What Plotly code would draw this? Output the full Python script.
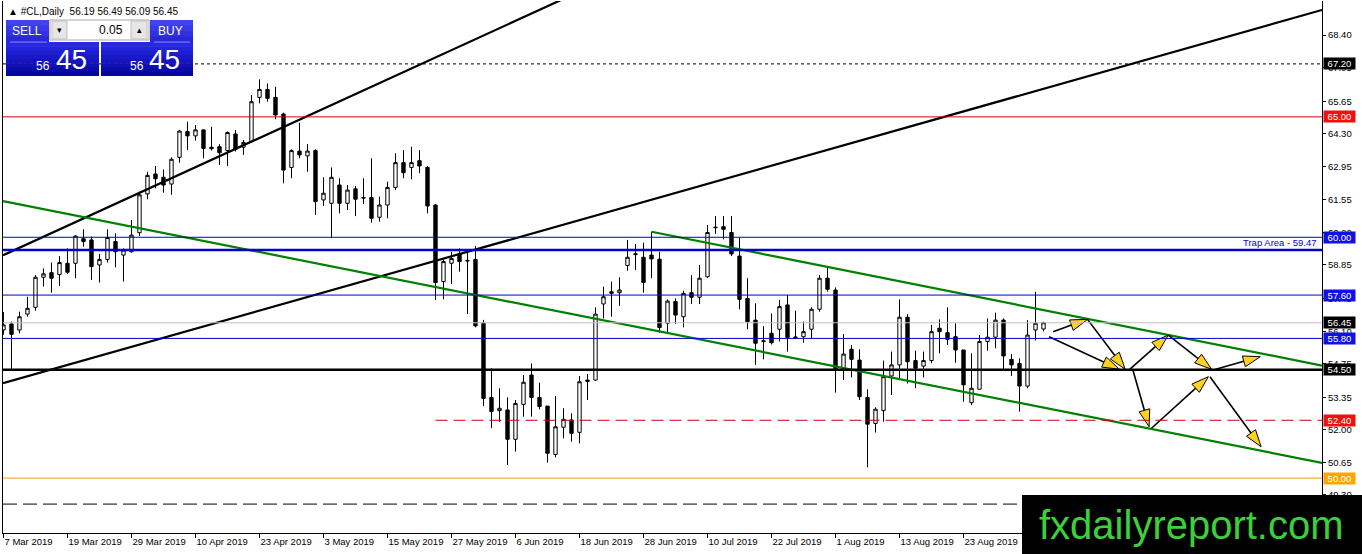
"""#CL daily chart (MT4 style): candles, channel, trend lines, levels and projection arrows."""

from __future__ import annotations

import plotly.graph_objects as go

SYMBOL = "#CL,Daily"

# daily candles, bar 0 = 7 Mar 2019, last bar = 6 Sep 2019
OPEN = [
    56.15, 56.40, 56.15, 56.81, 57.09, 58.34, 58.53, 58.45, 58.92, 58.92,
    59.94, 59.89, 58.85, 59.08, 59.82, 59.26, 59.40, 60.19, 61.80, 62.63,
    62.49, 62.21, 63.32, 64.39, 64.21, 64.46, 63.74, 63.76, 63.60, 64.29,
    63.74, 63.97, 65.81, 66.14, 65.81, 65.12, 62.90, 63.58, 63.38, 63.60,
    61.55, 61.41, 62.17, 61.41, 62.01, 61.65, 61.65, 60.83, 61.34, 62.07,
    63.10, 62.90, 63.18, 62.90, 61.34, 58.16, 58.92, 59.31, 59.04, 59.08,
    56.43, 53.35, 52.80, 52.83, 51.61, 53.06, 54.28, 53.35, 52.99, 50.98,
    52.11, 52.41, 51.90, 54.01, 54.07, 57.23, 57.67, 57.70, 58.83, 59.28,
    59.17, 59.26, 59.09, 56.43, 57.33, 56.70, 57.70, 57.51, 58.36, 60.42,
    60.44, 60.20, 59.22, 57.46, 56.56, 55.70, 56.01, 56.18, 57.19, 55.86,
    55.87, 56.18, 57.01, 58.30, 57.81, 54.49, 55.35, 54.90, 53.35, 52.27,
    52.80, 54.24, 54.70, 56.68, 54.88, 54.65, 54.88, 56.22, 56.04, 55.87,
    55.32, 53.13, 53.69, 55.67, 55.85, 56.56, 54.93, 54.76, 53.82, 56.15,
    56.19,
]
HIGH = [
    56.90, 56.50, 56.91, 57.53, 58.43, 58.71, 58.95, 59.22, 59.54, 60.09,
    60.33, 60.03, 59.31, 60.33, 60.16, 59.54, 60.72, 61.89, 62.72, 62.96,
    62.82, 63.32, 64.46, 64.80, 64.66, 64.48, 64.59, 63.87, 64.39, 64.46,
    64.04, 65.91, 66.56, 66.39, 66.25, 65.18, 63.65, 64.76, 63.87, 63.65,
    62.49, 62.90, 62.45, 62.17, 62.13, 62.45, 63.28, 61.69, 62.31, 63.49,
    63.62, 63.76, 63.62, 62.96, 61.38, 59.08, 59.40, 59.54, 59.40, 59.64,
    56.57, 54.56, 53.73, 53.35, 53.24, 54.28, 54.76, 53.96, 52.99, 53.41,
    52.90, 52.69, 54.24, 54.32, 57.09, 57.95, 58.16, 58.34, 59.89, 59.72,
    59.78, 60.23, 59.40, 57.42, 57.46, 57.78, 58.43, 58.85, 60.51, 60.88,
    60.88, 60.88, 59.99, 58.30, 57.26, 56.31, 56.84, 57.40, 57.60, 56.95,
    56.50, 57.09, 58.43, 58.78, 57.92, 55.98, 55.53, 55.35, 53.69, 52.94,
    54.88, 55.25, 57.42, 56.81, 55.29, 55.25, 56.36, 56.59, 57.09, 56.43,
    55.32, 55.18, 55.94, 56.63, 56.87, 56.63, 55.15, 54.97, 56.56, 57.74,
    56.49,
]
LOW = [
    55.95, 54.49, 56.01, 56.70, 56.95, 57.95, 57.70, 57.98, 58.48, 58.30,
    59.61, 58.23, 58.12, 58.95, 58.75, 58.16, 59.36, 60.05, 61.58, 62.03,
    61.85, 61.76, 63.10, 63.62, 64.01, 63.28, 63.60, 63.00, 62.96, 63.56,
    63.42, 63.93, 65.56, 65.63, 64.90, 62.24, 62.45, 63.28, 62.72, 60.93,
    61.30, 59.96, 60.99, 61.13, 60.88, 61.38, 60.61, 60.65, 60.79, 61.96,
    62.45, 62.41, 62.66, 60.99, 57.40, 57.42, 58.06, 58.57, 56.81, 56.26,
    52.99, 52.07, 52.34, 50.54, 51.10, 52.55, 52.55, 52.85, 50.64, 50.86,
    51.65, 51.51, 51.44, 53.24, 54.04, 56.63, 56.70, 57.15, 58.61, 58.64,
    57.70, 58.30, 56.04, 56.04, 56.40, 56.26, 57.23, 57.23, 58.30, 60.14,
    59.91, 59.22, 57.01, 56.18, 54.70, 54.93, 55.55, 55.67, 55.25, 55.80,
    55.62, 55.80, 56.91, 57.74, 53.55, 54.07, 54.18, 53.24, 50.45, 51.89,
    52.34, 53.45, 54.14, 53.93, 53.73, 54.18, 54.77, 55.18, 55.53, 54.79,
    53.17, 53.03, 53.69, 55.29, 55.39, 54.49, 54.24, 52.76, 53.73, 55.71,
    56.09,
]
CLOSE = [
    56.36, 55.97, 56.70, 57.05, 58.34, 58.48, 58.30, 58.95, 58.55, 60.05,
    59.82, 58.78, 59.08, 59.99, 59.40, 59.47, 60.09, 61.76, 62.57, 62.43,
    62.17, 63.24, 64.41, 64.21, 64.46, 63.69, 63.68, 63.51, 64.35, 63.65,
    63.94, 65.63, 66.14, 65.77, 65.08, 62.79, 63.60, 63.42, 63.58, 61.48,
    61.83, 62.49, 61.41, 61.96, 61.58, 61.63, 60.79, 61.34, 62.07, 63.10,
    62.68, 63.10, 62.96, 61.30, 58.12, 58.99, 59.12, 58.99, 59.02, 56.32,
    53.31, 52.76, 52.90, 51.61, 53.10, 53.98, 53.35, 52.97, 51.03, 52.13,
    52.44, 51.86, 54.00, 54.07, 56.81, 57.53, 57.74, 57.81, 59.17, 59.31,
    58.12, 59.10, 56.25, 57.35, 56.77, 57.67, 57.51, 58.30, 60.20, 60.40,
    60.33, 59.31, 57.42, 56.49, 55.60, 55.68, 55.62, 57.12, 55.84, 55.84,
    56.08, 57.01, 58.30, 57.84, 54.49, 55.15, 54.93, 53.38, 52.24, 52.86,
    54.21, 54.70, 56.68, 54.83, 54.56, 54.88, 56.08, 56.08, 55.76, 55.32,
    53.87, 53.73, 55.67, 55.85, 56.56, 55.07, 54.70, 53.82, 55.94, 56.43,
    56.45,
]

TICK_BARS = [0, 8, 16, 24, 32, 40, 48, 56, 64, 72, 80, 88, 96, 104, 112, 120]
TICK_DATES = [
    "7 Mar 2019", "19 Mar 2019", "29 Mar 2019", "10 Apr 2019", "23 Apr 2019",
    "3 May 2019", "15 May 2019", "27 May 2019", "6 Jun 2019", "18 Jun 2019",
    "28 Jun 2019", "10 Jul 2019", "22 Jul 2019", "1 Aug 2019", "13 Aug 2019",
    "23 Aug 2019",
]
PRICE_TICKS = [68.40, 67.05, 65.65, 64.30, 62.95, 61.55, 60.20, 58.85, 57.45,
               56.10, 54.75, 53.35, 52.00, 50.65, 49.30]

# horizontal levels and the bar each one is drawn from (None = whole chart)
LEVELS = [67.20, 65.00, 60.00, 59.47, 57.60, 56.45, 55.80, 54.50, 52.40, 50.00, 48.92]
LEVEL_FROM = [None, None, None, None, None, None, None, None, 54, None, None]
TRAP_AREA = 59.47

# trend lines: (bar, price) end points
STEEP_X = [-0.06, 70.0]
STEEP_Y = [59.25, 69.90]
LONG_X = [-0.06, 164.81]
LONG_Y = [53.94, 69.44]
CHANNEL_LOW_X = [-0.06, 164.81]
CHANNEL_LOW_Y = [61.50, 50.63]
CHANNEL_HIGH_X = [81.0, 164.81]
CHANNEL_HIGH_Y = [60.23, 54.67]

# projection arrows
ARROW_X0 = [131.2, 130.7, 135.5, 140.7, 145.6, 151.2, 141.2, 143.5, 150.8]
ARROW_Y0 = [56.08, 55.87, 56.59, 54.49, 55.94, 54.49, 54.46, 52.07, 54.21]
ARROW_X1 = [135.5, 139.5, 140.2, 145.6, 151.0, 157.1, 143.2, 150.6, 157.2]
ARROW_Y1 = [56.59, 54.52, 54.52, 55.94, 54.52, 55.04, 52.13, 54.21, 51.30]

FONT = "Liberation Sans, Arial, sans-serif"
X_RANGE = [-0.06, 164.81]
Y_RANGE = [47.719, 69.812]
PLOT_LEFT, PLOT_TOP, PLOT_W, PLOT_H = 3, 1, 1319, 532


def _px(x: float) -> float:
    return (x - PLOT_LEFT) / PLOT_W


def _py(y: float) -> float:
    return (PLOT_TOP + PLOT_H - y) / PLOT_H


def _rect(x0, y0, x1, y1, fill, line=None) -> dict:
    return dict(
        type="rect", xref="paper", yref="paper", layer="above",
        x0=_px(x0), x1=_px(x1), y0=_py(y1), y1=_py(y0), fillcolor=fill,
        line=dict(width=0) if line is None else dict(color=line, width=1),
    )


def _text(x, y, text, size, color, anchor="center", family=FONT) -> dict:
    return dict(
        xref="paper", yref="paper", x=_px(x), y=_py(y), text=text, showarrow=False,
        xanchor=anchor, yanchor="middle", font=dict(family=family, size=size, color=color),
    )


def _gradient(x0, y0, x1, y1, top, bottom, steps=8) -> list[dict]:
    shapes = []
    for k in range(steps):
        t = k / (steps - 1)
        rgb = tuple(round(a + (b - a) * t) for a, b in zip(top, bottom))
        ya = y0 + (y1 - y0) * k / steps
        yb = y0 + (y1 - y0) * (k + 1) / steps
        shapes.append(_rect(x0, ya, x1, min(yb + 0.6, y1), "rgb(%d,%d,%d)" % rgb))
    return shapes


def _level_shapes_and_labels() -> tuple[list[dict], list[dict]]:
    # colour, width, dash, price box colour (None = no box)
    styles = [
        ("#000000", 1, "dot", "#000000"),
        ("#d00000", 1, "solid", "#f01010"),
        ("#0000cd", 1, "solid", "#1010e8"),
        ("#0000cd", 2.5, "solid", None),
        ("#0000cd", 1, "solid", "#1010e8"),
        ("#c0c0c0", 1, "solid", "#000000"),
        ("#0000cd", 1, "solid", "#1010e8"),
        ("#000000", 2.5, "solid", "#000000"),
        ("#d00000", 1, "12px,6px", "#f01010"),
        ("#f0a000", 1, "solid", "#ffa500"),
        ("#000000", 1, "14px,6px", None),
    ]
    shapes, labels = [], []
    for price, start, (color, width, dash, box) in zip(LEVELS, LEVEL_FROM, styles):
        shapes.append(dict(
            type="line", xref="x", yref="y", layer="above",
            x0=X_RANGE[0] if start is None else start, x1=X_RANGE[1], y0=price, y1=price,
            line=dict(color=color, width=width, dash=dash),
        ))
        if box is not None:
            labels.append(dict(
                xref="paper", yref="y", x=1, xshift=1, y=price, xanchor="left", yanchor="middle",
                text=f"{price:.2f}", showarrow=False, width=31, height=11, borderpad=0,
                bgcolor=box, font=dict(family=FONT, size=9.5, color="#ffffff"),
            ))
    labels.append(dict(
        xref="paper", yref="y", x=1, xshift=-3, y=TRAP_AREA, xanchor="right", yanchor="bottom",
        text=f"Trap Area - {TRAP_AREA:.2f}", showarrow=False,
        font=dict(family=FONT, size=9.5, color="#0000e0"),
    ))
    return shapes, labels


def _panel() -> tuple[list[dict], list[dict]]:
    shapes = []
    shapes += _gradient(6, 20, 49, 42, (66, 66, 238), (40, 40, 214), steps=4)
    shapes += _gradient(150, 20, 193, 42, (66, 66, 238), (40, 40, 214), steps=4)
    shapes += _gradient(6, 42, 99, 76, (40, 40, 228), (6, 6, 160))
    shapes += _gradient(101, 42, 193, 76, (40, 40, 228), (6, 6, 160))
    shapes.append(dict(type="line", xref="paper", yref="paper", layer="above",
                       x0=_px(10), x1=_px(47), y0=_py(42), y1=_py(42), line=dict(color="#8c8cff", width=1)))
    shapes.append(dict(type="line", xref="paper", yref="paper", layer="above",
                       x0=_px(154), x1=_px(190), y0=_py(42), y1=_py(42), line=dict(color="#8c8cff", width=1)))
    shapes.append(_rect(50, 20, 149, 40, "#ffffff", "#a8a8a8"))
    shapes.append(_rect(52, 21, 67, 39, "#e6e6e6", "#c0c0c0"))
    shapes.append(_rect(131, 21, 147, 39, "#e6e6e6", "#c0c0c0"))
    o, h, l, c = OPEN[-1], HIGH[-1], LOW[-1], CLOSE[-1]
    small, big = f"{c:.2f}".split(".")
    texts = [
        _text(6, 11, f"▲ {SYMBOL}  {o:.2f} {h:.2f} {l:.2f} {c:.2f}", 10, "#000000", anchor="left"),
        _text(27, 31, "SELL", 12, "#ffffff"),
        _text(170, 31, "BUY", 12, "#ffffff"),
        _text(59.5, 30, "▾", 9, "#000000"),
        _text(139, 30, "▴", 9, "#000000"),
        _text(125, 30, "0.05", 12, "#000000", anchor="right"),
        _text(43, 66, small, 12, "#ffffff"),
        _text(71, 60, big, 28, "#ffffff"),
        _text(137, 66, small, 12, "#ffffff"),
        _text(164, 60, big, 28, "#ffffff"),
    ]
    return shapes, texts


def build_figure() -> go.Figure:
    bars = list(range(len(CLOSE)))
    fig = go.Figure()
    fig.add_trace(go.Candlestick(
        x=bars, open=OPEN, high=HIGH, low=LOW, close=CLOSE,
        increasing=dict(fillcolor="#ffffff", line=dict(color="#000000", width=1)),
        decreasing=dict(fillcolor="#000000", line=dict(color="#000000", width=1)),
        hoverinfo="skip", showlegend=False,
    ))
    lines = [
        (STEEP_X, STEEP_Y, "#000000"),
        (LONG_X, LONG_Y, "#000000"),
        (CHANNEL_LOW_X, CHANNEL_LOW_Y, "#008000"),
        (CHANNEL_HIGH_X, CHANNEL_HIGH_Y, "#008000"),
    ]
    for xs, ys, color in lines:
        fig.add_trace(go.Scatter(x=xs, y=ys, mode="lines", line=dict(color=color, width=2.2),
                                 hoverinfo="skip", showlegend=False))
    for x0, y0, x1, y1 in zip(ARROW_X0, ARROW_Y0, ARROW_X1, ARROW_Y1):
        fig.add_trace(go.Scatter(
            x=[x0, x1], y=[y0, y1], mode="lines+markers",
            line=dict(color="#000000", width=1.6),
            marker=dict(symbol="arrow", size=18, angleref="previous", color="#ffd21f",
                        opacity=[0, 1], line=dict(color="#000000", width=1)),
            hoverinfo="skip", showlegend=False,
        ))

    level_shapes, level_labels = _level_shapes_and_labels()
    panel_shapes, panel_texts = _panel()
    watermark = [dict(type="rect", xref="paper", yref="paper", layer="above",
                      x0=_px(1022), x1=_px(1366), y0=_py(558), y1=_py(495),
                      fillcolor="#000000", line=dict(width=0))]
    watermark_text = [_text(1191, 525, "fxdailyreport.com", 40, "#3bd13b", family="Liberation Sans, Arial")]

    tick_font = dict(family=FONT, size=9.5, color="#000000")
    fig.update_layout(
        width=1362, height=554, margin=dict(l=3, r=40, t=1, b=21),
        paper_bgcolor="#ffffff", plot_bgcolor="#ffffff", showlegend=False, boxgap=0.4,
        shapes=level_shapes + panel_shapes + watermark,
        annotations=level_labels + panel_texts + watermark_text,
        xaxis=dict(
            range=X_RANGE, tickvals=TICK_BARS, ticktext=TICK_DATES, ticks="outside", ticklen=4,
            tickcolor="#000000", ticklabelposition="outside right", tickfont=tick_font,
            showgrid=False, zeroline=False, showline=True, linecolor="#000000", linewidth=1,
            rangeslider=dict(visible=False), fixedrange=True,
        ),
        yaxis=dict(
            side="right", range=Y_RANGE, tickvals=PRICE_TICKS,
            ticktext=[f"{v:.2f}" for v in PRICE_TICKS], ticks="outside", ticklen=3,
            tickcolor="#000000", tickfont=tick_font, showgrid=False, zeroline=False,
            showline=True, mirror=True, linecolor="#000000", linewidth=1, fixedrange=True,
        ),
    )
    return fig


if __name__ == "__main__":
    figure = build_figure()
    figure.write_html(
        "out.html",
        config={"displayModeBar": False},
        post_script="document.body.style.margin='0';",
    )
